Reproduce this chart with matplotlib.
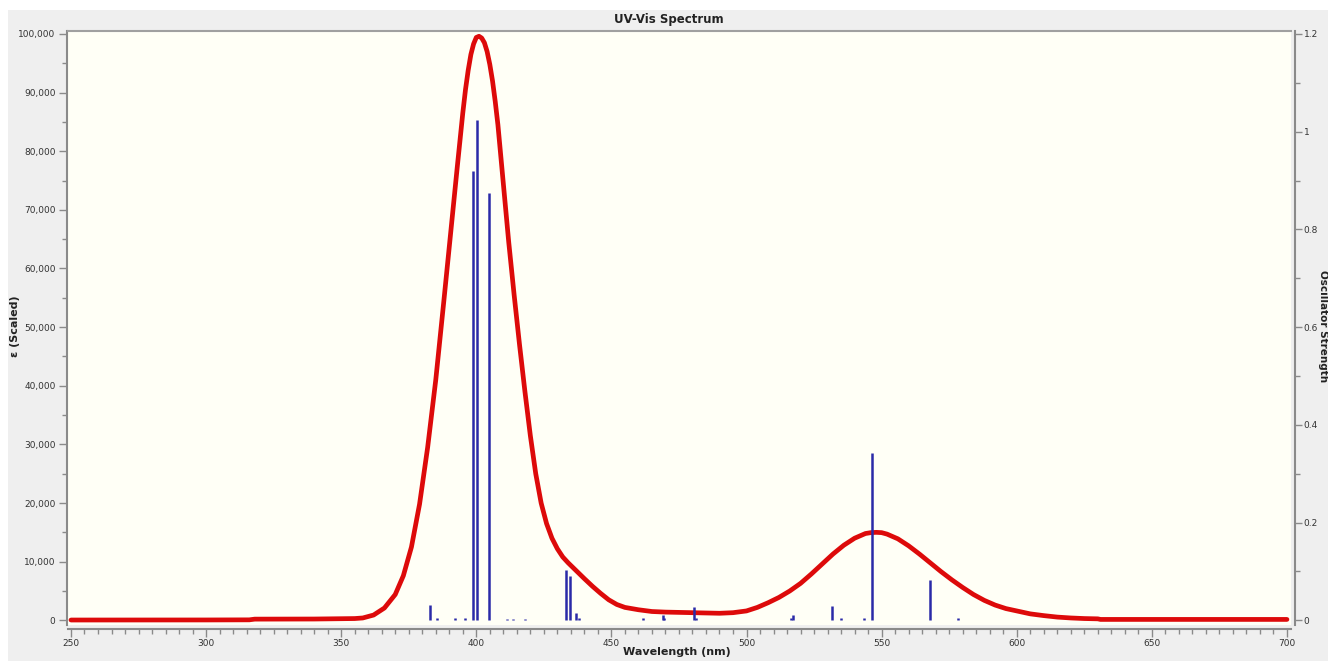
import numpy as np
import matplotlib
matplotlib.use('Agg')
import matplotlib.pyplot as plt
from matplotlib.patches import Rectangle
from matplotlib.ticker import MultipleLocator, FuncFormatter

# ------------------------------- spectrum data ------------------------------ #
wavelength = [250, 300, 316, 318, 340, 355, 358, 362, 366, 370, 373, 376, 379,
              382, 385, 388, 391, 393, 394, 395, 396, 397, 398, 399, 400, 401,
              402, 403, 404, 405, 406, 407, 408, 410, 412, 414, 416, 418, 420,
              422, 424, 426, 428, 430, 432, 434, 436, 438, 440, 443, 446, 449,
              452, 455, 460, 465, 470, 480, 490, 495, 500, 504, 508, 512, 516,
              520, 524, 528, 532, 536, 540, 544, 546, 548, 550, 552, 556, 560,
              564, 568, 572, 576, 580, 584, 588, 592, 596, 600, 605, 610, 615,
              620, 625, 630, 631, 700]
epsilon = [50, 60, 80, 200, 220, 300, 400, 900, 2100, 4400, 7600, 12500, 19800,
           29500, 41000, 54500, 68300, 77500, 82000, 86500, 90500, 93800, 96500,
           98300, 99400, 99600, 99300, 98500, 97000, 94800, 92000, 88500, 84500,
           74500, 64500, 55500, 47000, 39000, 31500, 25000, 20000, 16500, 14000,
           12200, 10800, 9800, 8900, 8000, 7100, 5800, 4600, 3500, 2700, 2200,
           1800, 1500, 1400, 1300, 1200, 1300, 1600, 2200, 3000, 3900, 5000,
           6300, 7900, 9600, 11300, 12800, 14000, 14800, 14950, 15000, 14950,
           14700, 13900, 12700, 11300, 9800, 8300, 6900, 5600, 4400, 3400, 2600,
           2000, 1600, 1100, 800, 550, 400, 300, 250, 150, 150]

# oscillator strengths (sticks)
stick_nm = [382.9, 385.5, 392.0, 395.8, 398.8, 400.3, 404.7, 411.4, 413.6, 418.0,
            433.2, 434.7, 436.9, 438.0, 461.7, 469.1, 469.6, 480.6, 481.2, 516.5,
            517.2, 531.6, 535.0, 543.5, 546.3, 568.0, 578.3]
stick_f = [0.031, 0.004, 0.004, 0.004, 0.92, 1.024, 0.874, 0.003, 0.003, 0.003,
           0.102, 0.090, 0.014, 0.004, 0.004, 0.011, 0.004, 0.028, 0.005, 0.004,
           0.010, 0.029, 0.004, 0.004, 0.342, 0.082, 0.004]

# ---------------------------------------------------------------------------- #
W, H = 1328, 661
fig = plt.figure(figsize=(W/100, H/100), dpi=100, facecolor='white')
fig.patches.append(Rectangle((8/W, 0), 1-8/W, (H-10)/H, transform=fig.transFigure,
                             facecolor='#efefef', edgecolor='none', zorder=-10))

ax = fig.add_axes([68/W, (H-625)/H, (1291-68)/W, (625-31)/H])
ax.set_facecolor('#fffff6')
ax.plot(wavelength, epsilon, color='#dd0a0a', lw=3.4, solid_capstyle='round',
        solid_joinstyle='round', zorder=3)

eps_lo, eps_hi = -800, 100500
ax.set_xlim(248.9, 701.5)
ax.set_ylim(eps_lo, eps_hi)

ax2 = ax.twinx()
ax2.vlines(stick_nm, 0, stick_f, color='#2a2aa8', lw=1.8, zorder=4)
ax2.set_ylim(eps_lo*1.2e-5, eps_hi*1.2e-5)

# ---------------------------------- axes ------------------------------------ #
gray = '#8a8a8a'
ax.spines['right'].set_visible(False)
for s in ['left', 'top', 'bottom']:
    ax2.spines[s].set_visible(False)
ax.spines['top'].set_color('#a0a0a0')
ax.spines['top'].set_linewidth(1.5)
ax.spines['left'].set_color(gray)
ax.spines['left'].set_linewidth(1.5)
ax.spines['left'].set_position(('outward', 1))
ax.spines['bottom'].set_color(gray)
ax.spines['bottom'].set_linewidth(1.5)
ax.spines['bottom'].set_position(('outward', 3))
ax2.spines['right'].set_color(gray)
ax2.spines['right'].set_linewidth(1.5)
ax2.spines['right'].set_position(('outward', 3))

ax.xaxis.set_major_locator(MultipleLocator(50))
ax.xaxis.set_minor_locator(MultipleLocator(5))
ax.yaxis.set_major_locator(MultipleLocator(10000))
ax.yaxis.set_minor_locator(MultipleLocator(5000))
ax.yaxis.set_major_formatter(FuncFormatter(lambda v, p: f'{v:,.0f}'))
ax2.yaxis.set_major_locator(MultipleLocator(0.2))
ax2.yaxis.set_minor_locator(MultipleLocator(0.1))
ax2.yaxis.set_major_formatter(FuncFormatter(lambda v, p: f'{v:g}'))

for a in (ax, ax2):
    a.tick_params(which='major', length=6, width=1, color=gray,
                  labelsize=6.5, labelcolor='#333333', pad=2)
    a.tick_params(which='minor', length=3.5, width=1, color=gray)

ax.tick_params(axis='x', pad=1)
ax2.tick_params(axis='y', which='major', length=5, pad=1)

fig.text(669/W, 1-19/H, 'UV-Vis Spectrum', ha='center', va='center',
         fontsize=8.5, fontweight='bold', color='#222222')
fig.text(677/W, 1-652/H, 'Wavelength (nm)', ha='center', va='center',
         fontsize=8, fontweight='bold', color='#222222')
fig.text(15/W, 1-326/H, 'ε (Scaled)', ha='center', va='center', rotation=90,
         fontsize=8, fontweight='bold', color='#222222')
fig.text(1323/W, 1-326/H, 'Oscillator Strength', ha='center', va='center',
         rotation=-90, fontsize=7.5, fontweight='bold', color='#222222')

plt.savefig('out.png', dpi=100)
plt.close('all')
